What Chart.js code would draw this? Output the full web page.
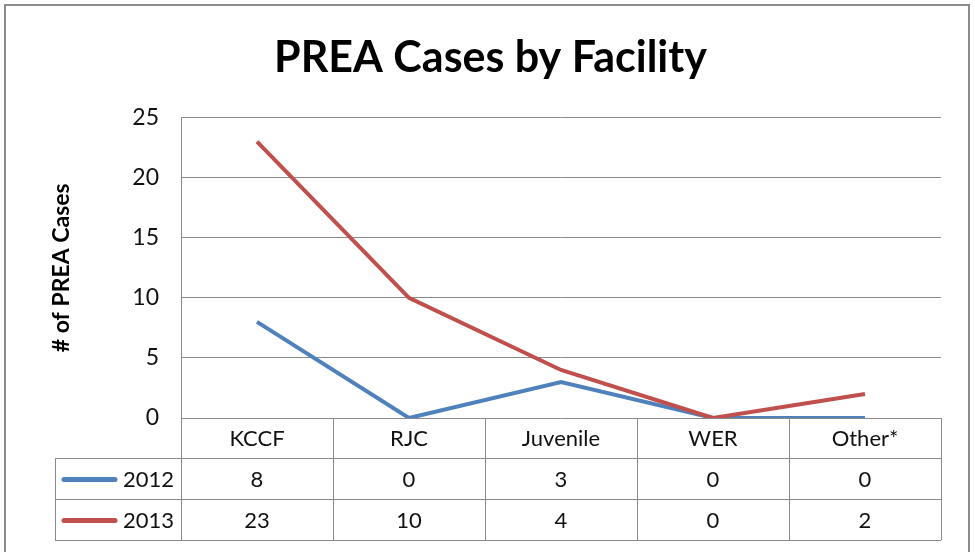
<!DOCTYPE html>
<html>
<head>
<meta charset="utf-8">
<script src="https://cdn.jsdelivr.net/npm/chart.js@4/dist/chart.umd.min.js"></script>
<style>
	html, body { margin: 0; padding: 0; background: #fff; }
	#wrap { width: 975px; height: 552px; }
</style>
</head>
<body>
<div id="wrap"><canvas id="preaChart" width="975" height="552"></canvas></div>
<script>
const categories = ['KCCF', 'RJC', 'Juvenile', 'WER', 'Other*'];
const seriesNames = ['2012', '2013'];
const cases2012 = [8, 0, 3, 0, 0];
const cases2013 = [23, 10, 4, 0, 2];
const seriesColors = ['#4F81BD', '#C0504D'];

const FONT = 'Lato, "Open Sans", sans-serif';
const GRID = '#898989';

// outer frame + data table under the plot, both driven from the arrays above
const tablePlugin = {
	id: 'dataTable',
	afterDraw(chart) {
		const ctx = chart.ctx;
		const x = chart.scales.x;
		const area = chart.chartArea;
		const colW = x.width / categories.length;
		const top = area.bottom;
		const rowH = [40, 41, 41];
		const legendLeft = 55;
		const rows = [top, top + rowH[0], top + rowH[0] + rowH[1], top + rowH[0] + rowH[1] + rowH[2]];

		ctx.save();
		// frame
		ctx.strokeStyle = '#8c8c8c';
		ctx.lineWidth = 2;
		ctx.beginPath();
		ctx.moveTo(5, 560);
		ctx.lineTo(5, 5);
		ctx.lineTo(969, 5);
		ctx.lineTo(969, 560);
		ctx.stroke();

		ctx.strokeStyle = GRID;
		ctx.lineWidth = 1;
		ctx.beginPath();
		// vertical lines
		for (let i = 0; i <= categories.length; i++) {
			const px = Math.round(area.left + i * colW) + 0.5;
			ctx.moveTo(px, rows[0]);
			ctx.lineTo(px, rows[3]);
		}
		ctx.moveTo(legendLeft + 0.5, rows[1]);
		ctx.lineTo(legendLeft + 0.5, rows[3]);
		// horizontal lines
		for (let r = 1; r < rows.length; r++) {
			ctx.moveTo(legendLeft, Math.round(rows[r]) + 0.5);
			ctx.lineTo(area.right, Math.round(rows[r]) + 0.5);
		}
		ctx.stroke();

		ctx.fillStyle = '#111';
		ctx.font = '22px ' + FONT;
		ctx.textAlign = 'center';
		ctx.textBaseline = 'middle';
		categories.forEach((c, i) => {
			ctx.fillText(c, x.getPixelForValue(i), rows[0] + rowH[0] / 2 + 1);
		});

		chart.data.datasets.forEach((ds, d) => {
			const cy = rows[d + 1] + rowH[d + 1] / 2 + 1;
			ds.data.forEach((v, i) => {
				ctx.textAlign = 'center';
				ctx.fillText(String(v), x.getPixelForValue(i), cy);
			});
			// legend key
			ctx.strokeStyle = ds.borderColor;
			ctx.lineWidth = 5;
			ctx.lineCap = 'round';
			ctx.beginPath();
			ctx.moveTo(64, cy);
			ctx.lineTo(115, cy);
			ctx.stroke();
			ctx.textAlign = 'right';
			ctx.fillText(ds.label, area.left - 7, cy);
		});
		ctx.restore();
	}
};

new Chart(document.getElementById('preaChart').getContext('2d'), {
	type: 'line',
	data: {
		labels: categories,
		datasets: [
			{ label: seriesNames[0], data: cases2012, borderColor: seriesColors[0], backgroundColor: seriesColors[0], borderWidth: 4, pointRadius: 0, tension: 0, order: 1 },
			{ label: seriesNames[1], data: cases2013, borderColor: seriesColors[1], backgroundColor: seriesColors[1], borderWidth: 4, pointRadius: 0, tension: 0, order: 0 }
		]
	},
	options: {
		responsive: false,
		animation: false,
		layout: { padding: { left: 40, right: 34, top: 0, bottom: 134 } },
		plugins: {
			legend: { display: false },
			tooltip: { enabled: false },
			title: {
				display: true,
				text: 'PREA Cases by Facility',
				color: '#000',
				font: { family: FONT, size: 43, weight: 'bold' },
				padding: { top: 32, bottom: 34 }
			}
		},
		scales: {
			x: {
				type: 'category',
				offset: true,
				display: false
			},
			y: {
				min: 0,
				max: 25,
				ticks: { stepSize: 5, color: '#111', font: { family: FONT, size: 23 }, padding: 22 },
				grid: { color: GRID, drawTicks: false },
				border: { display: true, color: GRID },
				title: {
					display: true,
					text: '# of PREA Cases',
					color: '#000',
					font: { family: FONT, size: 23, weight: 'bold' },
					padding: { top: 8, bottom: 0 }
				},
				afterFit(scale) { scale.width = 141; }
			}
		}
	},
	plugins: [tablePlugin]
});
</script>
</body>
</html>
